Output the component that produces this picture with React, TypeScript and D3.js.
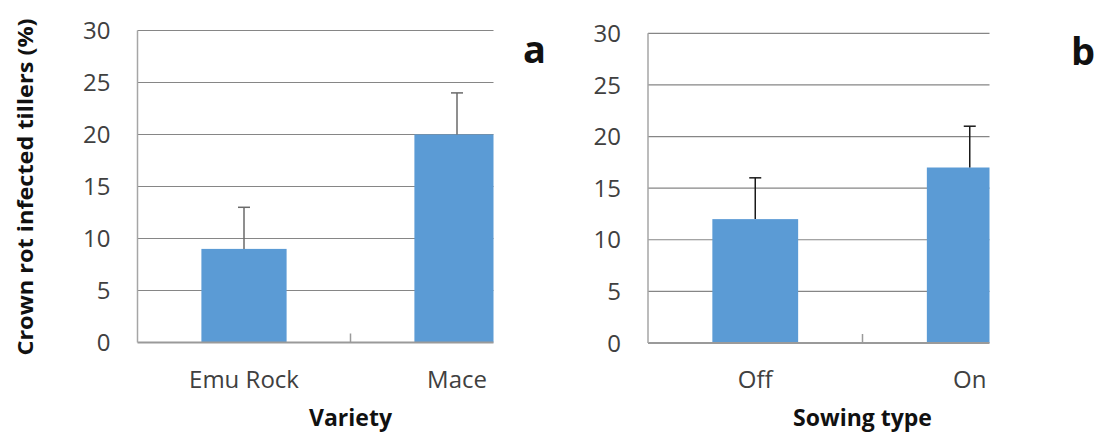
import React from 'react';
import * as d3 from 'd3';

// values
const varieties = ['Emu Rock', 'Mace'];
const varietyMeans = [9, 20];
const varietyErrors = [4, 4];

const sowingTypes = ['Off', 'On'];
const sowingMeans = [12, 17];
const sowingErrors = [4, 4];

const yTicks = [0, 5, 10, 15, 20, 25, 30];

const FONT = '"Open Sans", "Noto Sans", sans-serif';
const BAR = '#5B9BD5';

type PanelProps = {
  id: string;
  cats: string[];
  means: number[];
  errors: number[];
  left: number;
  right: number; // full plot extent (before cropping)
  clipRight: number;
  top: number;
  bottom: number;
  xTitle: string;
  letter: string;
  letterX: number;
  letterY: number;
  errColor: string;
};

const Panel: React.FC<PanelProps> = (p) => {
  const x = d3
    .scaleBand<string>()
    .domain(p.cats)
    .range([p.left, p.right])
    .paddingInner(0.6)
    .paddingOuter(0.3);
  const y = d3.scaleLinear().domain([0, 30]).range([p.bottom, p.top]);
  const midTick = (x(p.cats[1]) || 0) - (x.step() * 0.6) / 2;
  const cap = 6;

  return (
    <g>
      <defs>
        <clipPath id={p.id}>
          <rect x={p.left - 2} y={0} width={p.clipRight - p.left + 2} height={433} />
        </clipPath>
      </defs>
      <g clipPath={`url(#${p.id})`}>
        {yTicks.slice(1).map((t) => (
          <line
            key={t}
            x1={p.left}
            x2={p.right}
            y1={y(t)}
            y2={y(t)}
            stroke="#868686"
            strokeWidth={1.2}
          />
        ))}
        {p.cats.map((c, i) => (
          <rect
            key={c}
            x={x(c)}
            y={y(p.means[i])}
            width={x.bandwidth()}
            height={y(0) - y(p.means[i])}
            fill={BAR}
          />
        ))}
        <line x1={p.left} x2={p.right} y1={y(0)} y2={y(0)} stroke="#9a9a9a" strokeWidth={2} />
        <line x1={midTick} x2={midTick} y1={y(0)} y2={y(0) - 9} stroke="#9a9a9a" strokeWidth={1.5} />
      </g>
      <line x1={p.left} x2={p.left} y1={p.top} y2={y(0)} stroke="#a6a6a6" strokeWidth={1.5} />
      {p.cats.map((c, i) => {
        const cx = (x(c) || 0) + x.bandwidth() / 2;
        return (
          <g key={c} stroke={p.errColor} strokeWidth={1.5}>
            <line x1={cx} x2={cx} y1={y(p.means[i])} y2={y(p.means[i] + p.errors[i])} />
            <line
              x1={cx - cap}
              x2={cx + cap}
              y1={y(p.means[i] + p.errors[i])}
              y2={y(p.means[i] + p.errors[i])}
            />
          </g>
        );
      })}
      {yTicks.map((t) => (
        <text
          key={t}
          x={p.left - 27}
          y={y(t)}
          dy="0.36em"
          textAnchor="end"
          fontFamily={FONT}
          fontSize={24}
          fill="#404040"
        >
          {t}
        </text>
      ))}
      {p.cats.map((c) => (
        <text
          key={c}
          x={(x(c) || 0) + x.bandwidth() / 2}
          y={388}
          textAnchor="middle"
          fontFamily={FONT}
          fontSize={24}
          fill="#404040"
        >
          {c}
        </text>
      ))}
      <text
        x={midTick}
        y={426}
        textAnchor="middle"
        fontFamily={FONT}
        fontSize={23}
        fontWeight="bold"
        fill="#111"
      >
        {p.xTitle}
      </text>
      <text
        x={p.letterX}
        y={p.letterY}
        fontFamily={FONT}
        fontSize={38}
        fontWeight="bold"
        fill="#111"
      >
        {p.letter}
      </text>
    </g>
  );
};

const App: React.FC = () => {
  return (
    <svg
      width={1098}
      height={433}
      style={{ position: 'absolute', left: 0, top: 0, background: '#fff' }}
    >
      <rect width={1098} height={433} fill="#fff" />
      <text
        transform="translate(33,187) rotate(-90)"
        textAnchor="middle"
        fontFamily={FONT}
        fontSize={22}
        fontWeight="bold"
        fill="#111"
        textLength={337}
        lengthAdjust="spacingAndGlyphs"
      >
        Crown rot infected tillers (%)
      </text>
      <Panel
        id="clipA"
        cats={varieties}
        means={varietyMeans}
        errors={varietyErrors}
        left={137.5}
        right={563.5}
        clipRight={493.5}
        top={30.5}
        bottom={342.5}
        xTitle="Variety"
        letter="a"
        letterX={523}
        letterY={63}
        errColor="#6a6a6a"
      />
      <Panel
        id="clipB"
        cats={sowingTypes}
        means={sowingMeans}
        errors={sowingErrors}
        left={648}
        right={1077}
        clipRight={989.5}
        top={33.3}
        bottom={343}
        xTitle="Sowing type"
        letter="b"
        letterX={1071}
        letterY={65}
        errColor="#1a1a1a"
      />
    </svg>
  );
};

export default App;
